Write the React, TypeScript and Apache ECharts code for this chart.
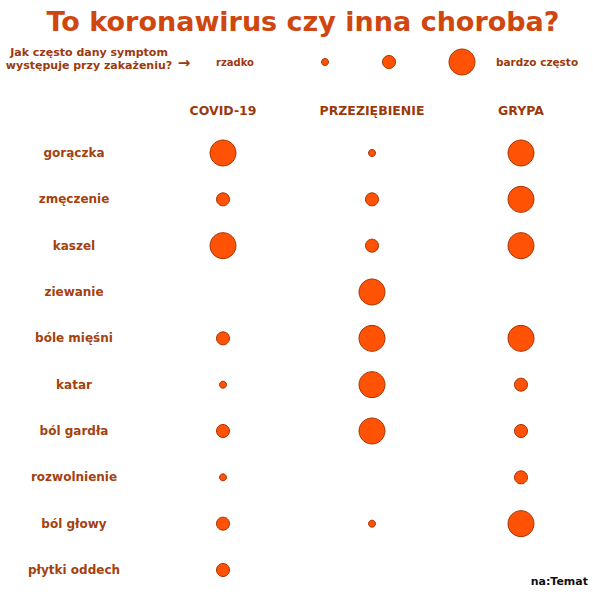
import React, { useEffect, useRef } from "react";
import * as echarts from "echarts";

const diseases = ["COVID-19", "PRZEZIĘBIENIE", "GRYPA"];
const symptoms = [
  "gorączka",
  "zmęczenie",
  "kaszel",
  "ziewanie",
  "bóle mięśni",
  "katar",
  "ból gardła",
  "rozwolnienie",
  "ból głowy",
  "płytki oddech",
];
// frequency level: 0 = none, 1 = rzadko, 2 = średnio, 3 = bardzo często
const covid = [3, 2, 3, 0, 2, 1, 2, 1, 2, 2];
const przeziebienie = [1, 2, 2, 3, 3, 3, 3, 0, 1, 0];
const grypa = [3, 3, 3, 0, 3, 2, 2, 2, 3, 0];
const legendLevels = [1, 2, 3];
const legendLow = "rzadko";
const legendHigh = "bardzo często";
const titleText = "To koronawirus czy inna choroba?";
const questionLines = ["Jak często dany symptom", "występuje przy zakażeniu?"];
const brand = "na:Temat";

const FILL = "#ff5205";
const STROKE = "#a83200";
const LABEL = "#a4420f";
const FONT = "DejaVu Sans";

const diameter = (v: number) => (v === 3 ? 26 : v === 2 ? 13 : v === 1 ? 7 : 0);

export default function App() {
  const ref = useRef<HTMLDivElement>(null);
  useEffect(() => {
    if (!ref.current) return;
    const chart = echarts.init(ref.current, null, { renderer: "svg" });
    const cols = [covid, przeziebienie, grypa];
    const data: any[] = [];
    cols.forEach((col, ci) =>
      col.forEach((v, ri) => {
        if (v > 0) data.push([diseases[ci], symptoms[ri], v]);
      })
    );
    const legendX = [325, 389, 462];
    chart.setOption({
      animation: false,
      backgroundColor: "#ffffff",
      grid: { left: 223, right: 72, top: 153, bottom: 26, containLabel: false },
      xAxis: {
        type: "category",
        data: diseases,
        position: "top",
        boundaryGap: false,
        axisLine: { show: false },
        axisTick: { show: false },
        splitLine: { show: false },
        axisLabel: {
          margin: 36,
          color: "#9c3a0c",
          fontFamily: FONT,
          fontWeight: "bold",
          fontSize: 12.5,
        },
      },
      yAxis: {
        type: "category",
        data: symptoms,
        inverse: true,
        boundaryGap: false,
        axisLine: { show: false },
        axisTick: { show: false },
        splitLine: { show: false },
        axisLabel: {
          align: "center",
          margin: 149,
          color: LABEL,
          fontFamily: FONT,
          fontWeight: "bold",
          fontSize: 12,
        },
      },
      series: [
        {
          type: "scatter",
          data,
          symbol: "circle",
          symbolSize: (val: any[]) => diameter(val[2]),
          itemStyle: { color: FILL, borderColor: STROKE, borderWidth: 1, opacity: 1 },
          silent: true,
        },
      ],
      graphic: [
        {
          type: "text",
          x: 303,
          y: 21,
          style: {
            text: titleText,
            fill: "#cf460f",
            font: `bold 27px "${FONT}"`,
            align: "center",
            verticalAlign: "middle",
          },
        },
        {
          type: "text",
          x: 89,
          y: 59,
          style: {
            text: questionLines.join("\n"),
            fill: "#9c3a0c",
            font: `bold 11px "${FONT}"`,
            align: "center",
            verticalAlign: "middle",
            lineHeight: 13,
          },
        },
        {
          type: "text",
          x: 184,
          y: 63,
          style: {
            text: "→",
            fill: "#9c3a0c",
            font: `bold 15px "${FONT}"`,
            align: "center",
            verticalAlign: "middle",
          },
        },
        {
          type: "text",
          x: 235,
          y: 62,
          style: {
            text: legendLow,
            fill: "#9c3a0c",
            font: `bold 10px "${FONT}"`,
            align: "center",
            verticalAlign: "middle",
          },
        },
        ...legendLevels.map((lv, i) => ({
          type: "circle",
          shape: { cx: legendX[i], cy: 62, r: diameter(lv) / 2 },
          style: { fill: FILL, stroke: STROKE, lineWidth: 1 },
        })),
        {
          type: "text",
          x: 537,
          y: 62,
          style: {
            text: legendHigh,
            fill: "#9c3a0c",
            font: `bold 10.5px "${FONT}"`,
            align: "center",
            verticalAlign: "middle",
          },
        },
        {
          type: "text",
          x: 588,
          y: 581,
          style: {
            text: brand,
            fill: "#111111",
            font: `bold 11px "${FONT}"`,
            align: "right",
            verticalAlign: "middle",
          },
        },
      ],
    });
    return () => chart.dispose();
  }, []);
  return (
    <div
      ref={ref}
      style={{ position: "fixed", left: 0, top: 0, width: 593, height: 596 }}
    />
  );
}
